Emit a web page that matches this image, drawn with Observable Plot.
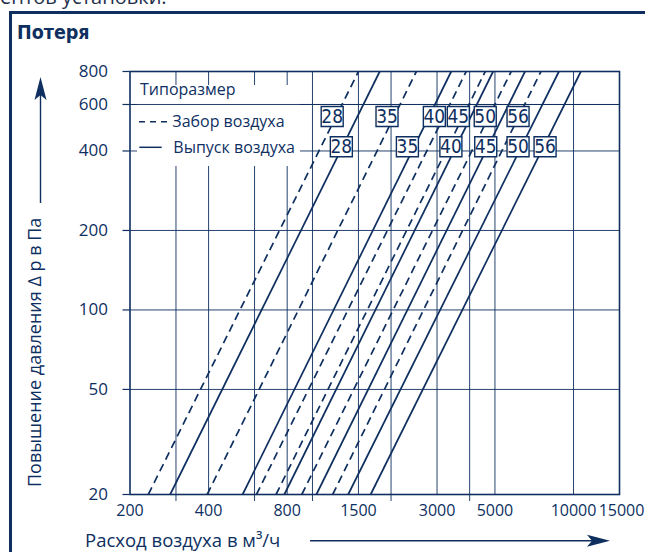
<!DOCTYPE html>
<html>
<head>
<meta charset="utf-8">
<script src="https://cdn.jsdelivr.net/npm/d3@7"></script>
<script src="https://cdn.jsdelivr.net/npm/@observablehq/plot@0.6"></script>
<style>
  body { margin: 0; background: #fff; }
  #wrap { position: relative; width: 645px; height: 552px; overflow: hidden; font-family: "Open Sans", sans-serif; color: #0e2f5f; }
  #cut { position: absolute; left: 0; top: -13px; font-size: 20px; line-height: 20px; white-space: nowrap; color: #1e2f4a; }
  #box { position: absolute; left: 9px; top: 11px; width: 800px; height: 800px; border-left: 3px solid #0e2f5f; border-top: 3px solid #0e2f5f; }
  #title { position: absolute; left: 17px; top: 23px; font-family: "Liberation Sans Narrow", "DejaVu Sans Condensed", sans-serif; font-weight: bold; font-size: 19.5px; line-height: 20px; color: #0e2f5f; }
  #chart { position: absolute; left: 0; top: 50px; }
</style>
</head>
<body>
<div id="wrap">
  <div id="cut">ентов установки.</div>
  <div id="box"></div>
  <div id="title">Потеря</div>
  <div id="chart"></div>
</div>
<script>
// Типоразмер (unit sizes)
const sizes = ["28", "35", "40", "45", "50", "56"];
// Забор воздуха (dashed): air flow, m³/h, at 20 Pa and at 800 Pa
const intakeQ20  = [235, 395, 610, 725, 910, 1195];
const intakeQ800 = [1500, 2500, 3880, 4590, 5770, 7500];
// Выпуск воздуха (solid): air flow, m³/h, at 20 Pa and at 800 Pa
const exhaustQ20  = [285, 540, 780, 1035, 1370, 1670];
const exhaustQ800 = [1810, 3400, 4920, 6520, 8790, 10670];
// label anchors (air flow, pressure)
const intakeLabelQ  = [1190, 1930, 2930, 3620, 4590, 6130];
const exhaustLabelQ = [1290, 2310, 3390, 4610, 6130, 7780];
const intakeLabelDp = 540;
const exhaustLabelDp = 415;
// axes
const xTicks = [200, 400, 800, 1500, 3000, 5000, 10000];
const xTickLast = [15000];
const xGridMajor = [400, 800, 1500, 3000, 5000, 10000];
const xGridMinor = [300, 600, 1000, 2000, 4000];
const yTicks = [20, 50, 100, 200, 400, 600, 800];
const yGrid = [50, 100, 200, 400, 600];
const qMin = 200, qMax = 15000;
const dpMin = 20, dpMax = 800;

const navy = "#0e2f5f";

const intake = sizes.map((s, i) => ({size: s, q1: intakeQ20[i], q2: intakeQ800[i]}));
const exhaust = sizes.map((s, i) => ({size: s, q1: exhaustQ20[i], q2: exhaustQ800[i]}));
const intakeLabels = sizes.map((s, i) => ({size: s, q: intakeLabelQ[i], dp: intakeLabelDp}));
const exhaustLabels = sizes.map((s, i) => ({size: s, q: exhaustLabelQ[i], dp: exhaustLabelDp}));
const labels = intakeLabels.concat(exhaustLabels);

const boxSymbol = { draw(ctx) { ctx.rect(-11, -10, 22, 20); } };

function legendBack(index, scales, values, d) {
  const g = d3.create("svg:g");
  g.append("rect")
    .attr("x", d.marginLeft + 7.5).attr("y", d.marginTop + 14)
    .attr("width", 163).attr("height", 81).attr("fill", "white");
  return g.node();
}

function legendItems(index, scales, values, d) {
  const L = d.marginLeft, T = d.marginTop;
  const g = d3.create("svg:g").attr("fill", navy).attr("text-anchor", "start")
    .attr("font-family", "Open Sans, sans-serif").attr("font-size", 16);
  g.append("text").attr("x", L + 10.5).attr("y", T + 24).text("Типоразмер");
  g.append("line").attr("x1", L + 9.5).attr("x2", L + 37.5).attr("y1", T + 50.7).attr("y2", T + 50.7)
    .attr("stroke", navy).attr("stroke-width", 1.5).attr("stroke-dasharray", "6,5");
  g.append("text").attr("x", L + 42.8).attr("y", T + 55.7).text("Забор воздуха");
  g.append("line").attr("x1", L + 9.8).attr("x2", L + 32.2).attr("y1", T + 76.3).attr("y2", T + 76.3)
    .attr("stroke", navy).attr("stroke-width", 1.5);
  g.append("text").attr("x", L + 43.8).attr("y", T + 81.7).text("Выпуск воздуха");
  return g.node();
}

function axisTitles(index, scales, values, d) {
  const g = d3.create("svg:g").attr("fill", navy).attr("text-anchor", "start")
    .attr("font-family", "Open Sans, sans-serif");
  // x title
  g.append("text").attr("x", 85).attr("y", d.height - 5).attr("font-size", 18.5).text("Расход воздуха в м³/ч");
  const ya = d.height - 11.3;
  g.append("line").attr("x1", 310).attr("x2", 595).attr("y1", ya).attr("y2", ya).attr("stroke", navy).attr("stroke-width", 1.4);
  g.append("path").attr("d", `M610,${ya} L587,${ya - 6} L592,${ya} L587,${ya + 6} Z`);
  // y title
  g.append("text").attr("transform", `translate(41,${d.height - 65}) rotate(-90)`).attr("font-size", 18).text("Повышение давления ∆ p в Па");
  const xa = 40.5;
  g.append("line").attr("x1", xa).attr("x2", xa).attr("y1", 153).attr("y2", 45).attr("stroke", navy).attr("stroke-width", 1.4);
  g.append("path").attr("d", `M${xa},27 L${xa - 6},50 L${xa},45 L${xa + 6},50 Z`);
  return g.node();
}

const plot = Plot.plot({
  width: 645,
  height: 502,
  marginLeft: 129.5,
  marginRight: 26,
  marginTop: 21,
  marginBottom: 58,
  style: {background: "transparent", color: navy, fontFamily: "Open Sans, sans-serif", fontSize: "17px"},
  x: {type: "log", domain: [qMin, qMax], axis: null},
  y: {type: "log", domain: [dpMin, dpMax], axis: null},
  marks: [
    Plot.ruleY(yGrid, {stroke: navy, strokeWidth: 1, strokeOpacity: 0.9}),
    Plot.ruleX(xGridMajor, {stroke: navy, strokeWidth: 1, strokeOpacity: 0.9}),
    Plot.ruleX(xGridMinor, {stroke: navy, strokeWidth: 1, strokeOpacity: 0.9, insetBottom: -7}),
    legendBack,
    Plot.ruleY([600], {stroke: navy, strokeWidth: 1, strokeOpacity: 0.9}),
    // y axis ticks and labels
    Plot.ruleY(yTicks, {x1: qMin, x2: qMin, insetLeft: -7, stroke: navy, strokeWidth: 1.2}),
    Plot.text(yTicks, {x: qMin, y: d => d, text: d => String(d), dx: -22, textAnchor: "end", fill: navy, fontSize: 17}),
    // x axis labels
    Plot.text(xTicks, {x: d => d, y: dpMin, text: d => String(d), dy: 16, fill: navy, fontSize: 16}),
    Plot.text(xTickLast, {x: d => d, y: dpMin, text: d => String(d), dy: 16, dx: 2, fill: navy, fontSize: 16}),
    Plot.frame({stroke: navy, strokeWidth: 1.6}),
    Plot.link(intake, {x1: "q1", x2: "q2", y1: () => dpMin, y2: () => dpMax, stroke: navy, strokeWidth: 1.7, strokeDasharray: "8,5"}),
    Plot.link(exhaust, {x1: "q1", x2: "q2", y1: () => dpMin, y2: () => dpMax, stroke: navy, strokeWidth: 1.7}),
    Plot.dot(labels, {x: "q", y: "dp", symbol: boxSymbol, r: 10, fill: "white", stroke: navy, strokeWidth: 1.4}),
    Plot.text(labels, {x: "q", y: "dp", text: "size", fill: navy, fontSize: 19, fontFamily: "Liberation Sans Narrow, DejaVu Sans Condensed, sans-serif"}),
    legendItems,
    axisTitles
  ]
});
document.getElementById("chart").appendChild(plot);
</script>
</body>
</html>
